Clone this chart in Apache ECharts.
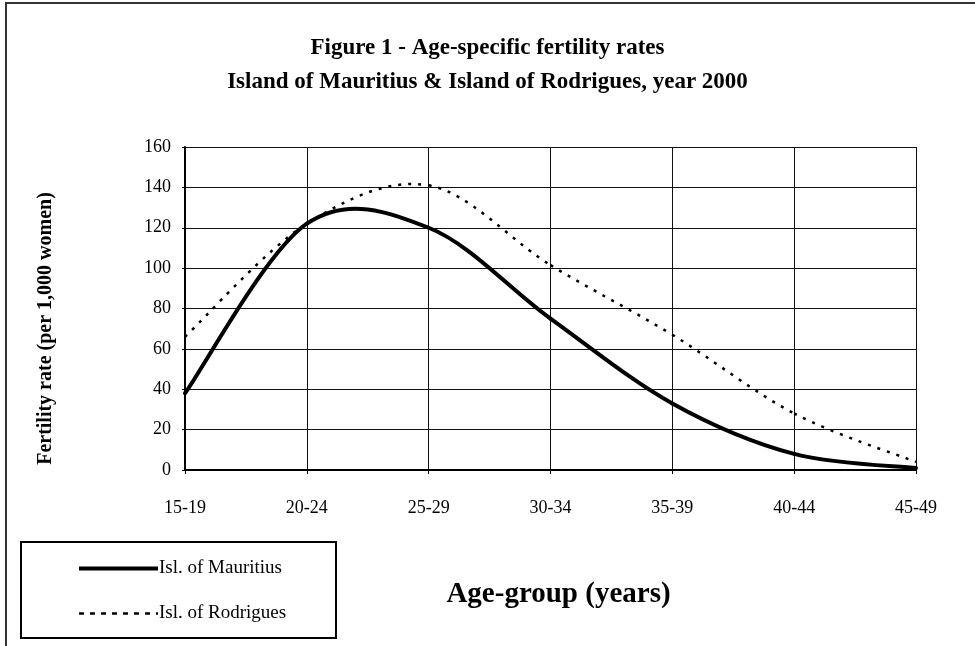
<!DOCTYPE html>
<html>
<head>
<meta charset="utf-8">
<script src="https://cdn.jsdelivr.net/npm/echarts@6/dist/echarts.min.js"></script>
<style>html,body{margin:0;padding:0;background:#fff}#c{width:975px;height:646px}</style>
</head>
<body>
<div id="c"></div>
<script>
const categories = ['15-19', '20-24', '25-29', '30-34', '35-39', '40-44', '45-49'];
const mauritius = [38, 122, 120, 75, 33, 8, 1];
const rodrigues = [66, 122, 141, 101.5, 67, 28, 4];
const yTicks = { min: 0, max: 160, interval: 20 };

const font = 'Liberation Serif, Times New Roman, serif';

// Smooth curve (Catmull-Rom style, like the spreadsheet's smoothed line) drawn through axis coords
function curveRenderer(vals, style) {
  const n = vals.length;
  const clamp = j => Math.max(0, Math.min(n - 1, j));
  return function (params, api) {
    const i = params.dataIndex;
    if (i >= n - 1) return null;
    const pt = j => api.coord([clamp(j), vals[clamp(j)]]);
    const p0 = pt(i - 1), p1 = pt(i), p2 = pt(i + 1), p3 = pt(i + 2);
    return {
      type: 'bezierCurve',
      shape: {
        x1: p1[0], y1: p1[1], x2: p2[0], y2: p2[1],
        cpx1: p1[0] + (p2[0] - p0[0]) / 6, cpy1: p1[1] + (p2[1] - p0[1]) / 6,
        cpx2: p2[0] - (p3[0] - p1[0]) / 6, cpy2: p2[1] - (p3[1] - p1[1]) / 6
      },
      style: Object.assign({ fill: 'none', stroke: '#000' }, style),
      silent: true
    };
  };
}

const chart = echarts.init(document.getElementById('c'), null, { renderer: 'canvas' });
chart.setOption({
  backgroundColor: '#fff',
  animation: false,
  title: {
    text: 'Figure 1 - Age-specific fertility rates\nIsland of Mauritius & Island of Rodrigues, year 2000',
    left: 'center', top: 26,
    textStyle: { fontFamily: font, fontSize: 23, fontWeight: 'bold', color: '#000', lineHeight: 34 }
  },
  graphic: [
    { type: 'rect', shape: { x: 6, y: 3, width: 990, height: 700 }, style: { fill: 'none', stroke: '#333', lineWidth: 2 }, silent: true },
    { type: 'rect', shape: { x: 21, y: 542, width: 315, height: 96 }, style: { fill: 'none', stroke: '#000', lineWidth: 2 }, silent: true }
  ],
  legend: {
    orient: 'vertical', left: 72, top: 554, itemGap: 26, itemWidth: 79, itemHeight: 19,
    textStyle: { fontFamily: font, fontSize: 19, color: '#000', padding: [0, 0, 0, -4] },
    data: [
      { name: 'Isl. of Mauritius', itemStyle: { opacity: 0 }, lineStyle: { opacity: 1, width: 4, color: '#000', type: 'solid' } },
      { name: 'Isl. of Rodrigues', itemStyle: { opacity: 0 }, lineStyle: { opacity: 1, width: 2.5, color: '#000', type: [5, 6] } }
    ]
  },
  grid: { left: 185, right: 59, top: 147, bottom: 176 },
  xAxis: {
    type: 'category', data: categories, boundaryGap: false,
    name: 'Age-group (years)', nameLocation: 'middle', nameGap: 110,
    nameTextStyle: { fontFamily: font, fontSize: 29, fontWeight: 'bold', color: '#000', padding: [0, 0, 0, 16] },
    axisLine: { lineStyle: { color: '#000', width: 2 } },
    axisTick: { show: true, length: 4, lineStyle: { color: '#000' } },
    axisLabel: { fontFamily: font, fontSize: 18, color: '#000', margin: 29 },
    splitLine: { show: true, lineStyle: { color: '#111', width: 1 } }
  },
  yAxis: {
    type: 'value', min: yTicks.min, max: yTicks.max, interval: yTicks.interval,
    name: 'Fertility rate (per 1,000 women)', nameLocation: 'middle', nameGap: 129, nameRotate: 90,
    nameTextStyle: { fontFamily: font, fontSize: 20, fontWeight: 'bold', color: '#000', padding: [0, 40, 0, 0] },
    axisLine: { show: true, lineStyle: { color: '#000', width: 2 } },
    axisTick: { show: true, length: 3, lineStyle: { color: '#000' } },
    axisLabel: { fontFamily: font, fontSize: 18, color: '#000', margin: 14 },
    splitLine: { show: true, lineStyle: { color: '#111', width: 1 } }
  },
  series: [
    {
      name: 'Isl. of Mauritius', type: 'line', data: mauritius, symbol: 'none', silent: true,
      lineStyle: { color: '#000', width: 4, opacity: 0 }, itemStyle: { color: '#000' }
    },
    {
      name: 'Isl. of Rodrigues', type: 'line', data: rodrigues, symbol: 'none', silent: true,
      lineStyle: { color: '#000', width: 2.5, opacity: 0, type: [3, 7] }, itemStyle: { color: '#000' }
    },
    {
      id: 'mauritiusCurve', type: 'custom', data: mauritius.map((v, i) => [i, v]),
      renderItem: curveRenderer(mauritius, { lineWidth: 4, lineCap: 'round' }), z: 4
    },
    {
      id: 'rodriguesCurve', type: 'custom', data: rodrigues.map((v, i) => [i, v]),
      renderItem: curveRenderer(rodrigues, { lineWidth: 2.5, lineDash: [3, 7] }), z: 3
    }
  ]
});
</script>
</body>
</html>
